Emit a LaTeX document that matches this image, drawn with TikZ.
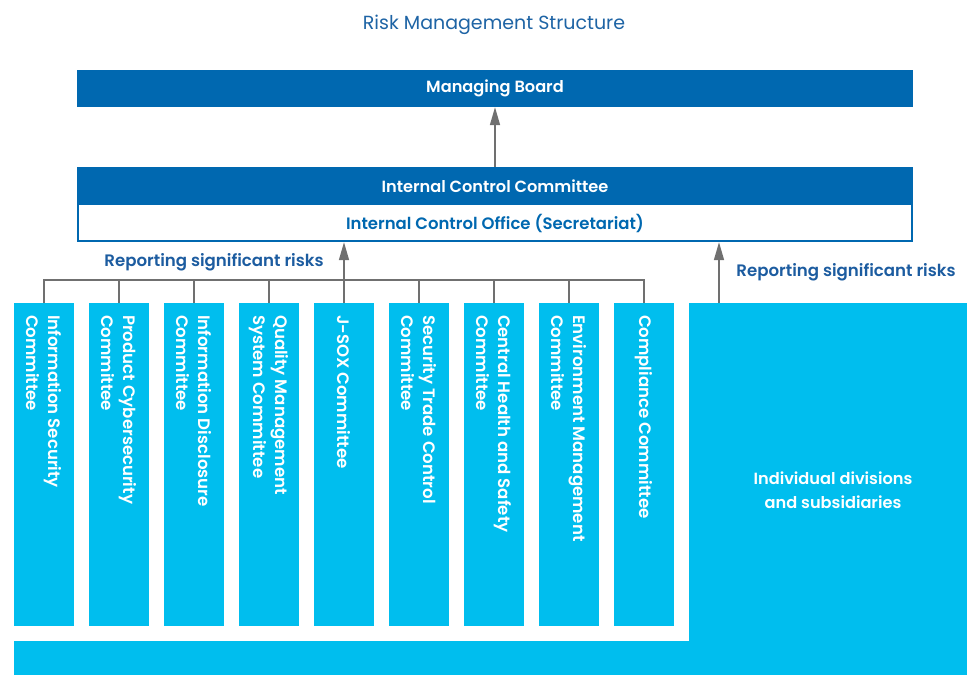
\documentclass[tikz,border=0pt]{standalone}
\usepackage{fontspec}
\setmainfont{Poppins}[BoldFont={Poppins SemiBold}]
\usetikzlibrary{arrows.meta}
\definecolor{dkblue}{RGB}{0,104,176}
\definecolor{cyanb}{RGB}{0,190,238}
\definecolor{ttlblue}{RGB}{30,100,165}
\definecolor{lblblue}{RGB}{28,92,160}
\definecolor{conngray}{RGB}{112,112,112}
\tikzset{
  darkbox/.style={fill=dkblue, draw=none, text=white, font=\fontsize{16.2}{18}\selectfont\bfseries, minimum width=836pt, inner sep=0pt},
  whitebox/.style={fill=white, draw=none, text=dkblue, font=\fontsize{16.5}{18}\selectfont\bfseries, minimum width=836pt, inner sep=0pt},
  colbox/.style={fill=cyanb, draw=none, minimum width=60pt, minimum height=323pt, inner sep=0pt},
  coltext/.style={text=white, font=\fontsize{16.6}{22}\selectfont\bfseries, align=left, inner sep=0pt, rotate=-90, anchor=west},
  conn/.style={draw=conngray, line width=1.6pt},
  arr/.style={conn, -{Triangle[length=18pt,width=10pt]}},
  lbl/.style={text=lblblue, font=\fontsize{16.6}{18}\selectfont\bfseries, inner sep=0pt},
  ttl/.style={text=ttlblue, font=\fontsize{19}{22}\selectfont, inner sep=0pt},
  divtext/.style={text=white, align=center, inner sep=0pt, font=\fontsize{16.2}{24}\selectfont\bfseries},
}
\begin{document}
\begin{tikzpicture}[x=1pt,y=-1pt]
\useasboundingbox (0,0) rectangle (967,675);
\fill[white] (0,0) rectangle (967,675);
\node[ttl] (title) at (494,25) {Risk Management Structure};
\node[darkbox, minimum height=37pt] (mb) at (495,88.5) {Managing Board};
\node[darkbox, minimum height=38pt] (icc) at (495,186) {Internal Control Committee};
\node[whitebox, minimum height=37pt] (ico) at (495,223.5) {Internal Control Office (Secretariat)};
\draw[dkblue, line width=2.5pt] ([shift={(1.25pt,-1.25pt)}]icc.north west) rectangle ([shift={(-1.25pt,1.25pt)}]ico.south east);
% columns
\foreach \i/\x in {1/44,2/119,3/194,4/269,5/344,6/419,7/494,8/569,9/644}{
  \node[colbox] (c\i) at (\x,464.5) {};
}
\node[coltext] at ([yshift=-12pt]c1.north) {Information Security\\Committee};
\node[coltext] at ([yshift=-12pt]c2.north) {Product Cybersecurity\\Committee};
\node[coltext] at ([yshift=-12pt]c3.north) {Information Disclosure\\Committee};
\node[coltext] at ([yshift=-12pt]c4.north) {Quality Management\\System Committee};
\node[coltext] at ([yshift=-12pt]c5.north) {J-SOX Committee};
\node[coltext] at ([yshift=-12pt]c6.north) {Security Trade Control\\Committee};
\node[coltext] at ([yshift=-12pt]c7.north) {Central Health and Safety\\Committee};
\node[coltext] at ([yshift=-12pt]c8.north) {Environment Management\\Committee};
\node[coltext] at ([yshift=-12pt]c9.north) {Compliance Committee};
% right block and bottom band
\fill[cyanb] (14,641) rectangle (967,675);
\node[fill=cyanb, minimum width=278pt, minimum height=372pt, inner sep=0pt] (div) at (828,489) {};
\node[divtext] (divt) at (833,490) {Individual divisions\\and subsidiaries};
% connectors
\coordinate (bus) at (0,280);
\draw[conn] (c1.north) -- (c1.north |- bus) -- (c9.north |- bus) -- (c9.north);
\foreach \i in {2,3,4,6,7,8}{
  \draw[conn] (c\i.north) -- (c\i.north |- bus);
}
\draw[arr] (c5.north) -- (c5.north |- ico.south);
\draw[arr] (icc.north) -- (mb.south);
\coordinate (ra) at (719,303);
\draw[arr] (ra) -- (ra |- ico.south);
% labels
\node[lbl] (l1) at (214,262) {Reporting significant risks};
\node[lbl] (l2) at (846,272) {Reporting significant risks};
\end{tikzpicture}
\end{document}
